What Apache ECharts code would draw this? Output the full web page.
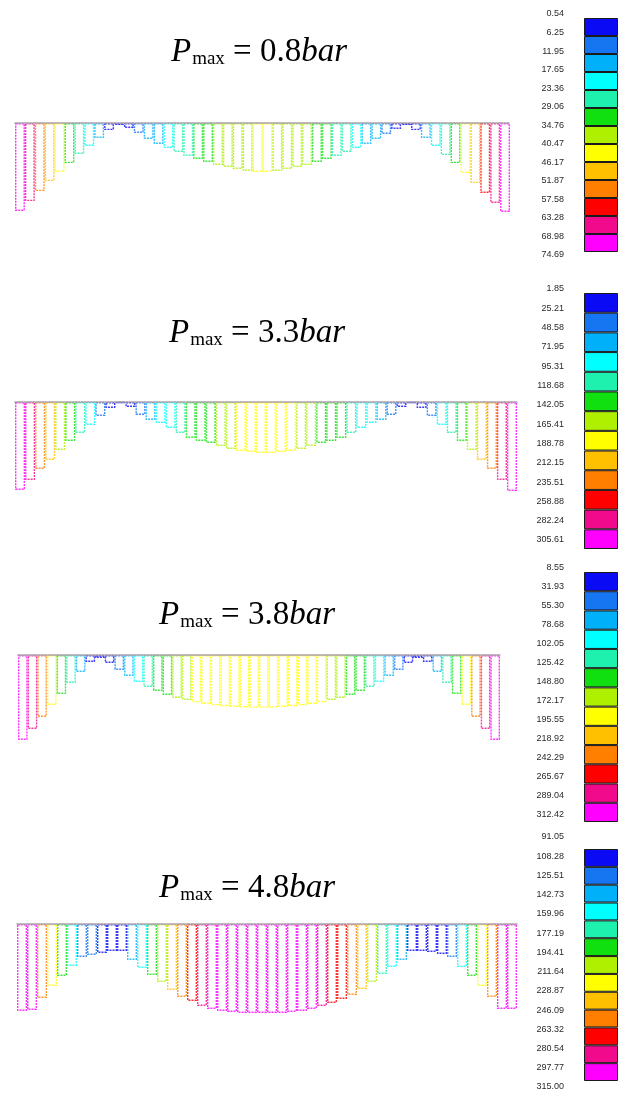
<!DOCTYPE html>
<html>
<head>
<meta charset="utf-8">
<script src="https://cdn.jsdelivr.net/npm/echarts@6/dist/echarts.min.js"></script>
<style>
html, body { margin: 0; padding: 0; background: #ffffff; }
#c { width: 621px; height: 1101px; }
</style>
</head>
<body>
<div id="c"></div>
<script>
// Contour colours, lowest band first
const bandColors = ['#0a0af5', '#1676f2', '#00b0f8', '#00ffff', '#1ef0ae', '#10e010',
  '#aef000', '#ffff00', '#ffc000', '#ff8000', '#ff0000', '#f20a8c', '#ff00ff'];

// Maximum pressure shown in each panel title
const pressures = ['0.8', '3.3', '3.8', '4.8'];

// Band boundaries of each colour scale
const ticks1 = ['0.54', '6.25', '11.95', '17.65', '23.36', '29.06', '34.76', '40.47', '46.17', '51.87', '57.58', '63.28', '68.98', '74.69'];
const ticks2 = ['1.85', '25.21', '48.58', '71.95', '95.31', '118.68', '142.05', '165.41', '188.78', '212.15', '235.51', '258.88', '282.24', '305.61'];
const ticks3 = ['8.55', '31.93', '55.30', '78.68', '102.05', '125.42', '148.80', '172.17', '195.55', '218.92', '242.29', '265.67', '289.04', '312.42'];
const ticks4 = ['91.05', '108.28', '125.51', '142.73', '159.96', '177.19', '194.41', '211.64', '228.87', '246.09', '263.32', '280.54', '297.77', '315.00'];

// Load on each of the 50 segments, left to right
const load1 = [73.8, 65.5, 57.1, 48.7, 41.1, 33.6, 26.0, 19.3, 12.6, 5.9, 1.7, 4.2, 8.4, 13.4, 17.6, 21.0, 24.3, 27.7, 30.2, 32.7, 35.2, 36.9, 38.6, 40.3, 41.1,
  41.1, 40.3, 38.6, 36.9, 35.2, 32.7, 30.2, 27.7, 24.3, 21.0, 17.6, 13.4, 9.2, 5.0, 1.7, 5.9, 12.6, 19.3, 26.9, 33.6, 42.0, 50.4, 58.7, 67.1, 74.69];
const load2 = [302.2, 267.9, 230.1, 199.2, 164.8, 133.9, 106.5, 79.0, 48.1, 20.6, 3.4, 17.2, 44.6, 61.8, 72.1, 89.3, 106.5, 123.6, 133.9, 140.8, 151.1, 161.4, 168.3, 171.7, 175.1,
  175.1, 171.7, 168.3, 161.4, 151.1, 140.8, 133.9, 123.6, 106.5, 89.3, 72.1, 61.8, 44.6, 17.2, 3.4, 20.6, 48.1, 79.0, 106.5, 133.9, 164.8, 199.2, 230.1, 267.9, 305.61];
const load3 = [312.4, 272.0, 227.9, 183.8, 143.4, 102.9, 62.5, 25.7, 11.0, 29.4, 55.1, 77.2, 99.3, 117.6, 132.3, 147.0, 158.1, 165.0, 174.0, 180.0, 185.0, 188.0, 191.0, 193.0, 194.0,
  194.0, 193.0, 191.0, 188.0, 185.0, 180.0, 174.0, 165.0, 158.1, 147.0, 132.3, 117.6, 99.3, 77.2, 55.1, 29.4, 11.0, 25.7, 62.5, 102.9, 143.4, 183.8, 227.9, 272.0, 312.42];
const load4 = [307.9, 304.4, 261.9, 219.4, 184.0, 148.6, 116.8, 109.7, 102.6, 95.6, 95.6, 127.4, 155.7, 180.5, 205.3, 233.6, 258.3, 272.5, 290.2, 300.8, 307.9, 311.4, 315.0, 315.0, 315.0,
  315.0, 315.0, 311.4, 307.9, 300.8, 290.2, 279.6, 265.4, 251.3, 230.0, 205.3, 177.0, 152.2, 127.4, 95.6, 95.6, 99.1, 106.2, 116.8, 152.2, 184.0, 219.4, 258.3, 300.8, 300.8];

const panels = [
  { p: pressures[0], ticks: ticks1, load: load1 },
  { p: pressures[1], ticks: ticks2, load: load2 },
  { p: pressures[2], ticks: ticks3, load: load3 },
  { p: pressures[3], ticks: ticks4, load: load4 }
];

// Placement of each panel on the page
const layout = [
  { x0: 15, x1: 510, base: 123, depth: 89, tLeft: 166, tTop: 29, boxTop: 18, boxBot: 252, labTop: 14, labBot: 255 },
  { x0: 15, x1: 517, base: 402, depth: 89, tLeft: 164, tTop: 310, boxTop: 293, boxBot: 549, labTop: 289, labBot: 540 },
  { x0: 18, x1: 500, base: 655, depth: 85, tLeft: 154, tTop: 592, boxTop: 572, boxBot: 822, labTop: 568, labBot: 815 },
  { x0: 17, x1: 517, base: 924, depth: 89, tLeft: 154, tTop: 865, boxTop: 849, boxBot: 1081, labTop: 837, labBot: 1087 }
];

function bandColor(v, ticks) {
  const t = ticks.map(Number);
  for (let i = 0; i < 13; i++) {
    if (v <= t[i + 1]) return bandColors[i];
  }
  return bandColors[12];
}

const serif = 'Liberation Serif';
const grids = [], xAxes = [], yAxes = [], series = [], titles = [];

panels.forEach((pn, k) => {
  const L = layout[k];
  const tmax = Number(pn.ticks[13]);

  // title  P_max = x bar
  titles.push({
    text: '{p|P}{s|max}{n| = ' + pn.p + '}{b|bar}',
    left: L.tLeft, top: L.tTop,
    textStyle: {
      fontWeight: 'normal',
      rich: {
        p: { fontFamily: serif, fontStyle: 'italic', fontWeight: 'normal', fontSize: 33, lineHeight: 35, color: '#000', verticalAlign: 'bottom' },
        s: { fontFamily: serif, fontWeight: 'normal', fontSize: 19, lineHeight: 12, color: '#000', verticalAlign: 'bottom', padding: [0, 0, 0, 1] },
        n: { fontFamily: serif, fontWeight: 'normal', fontSize: 33, lineHeight: 35, color: '#000', verticalAlign: 'bottom' },
        b: { fontFamily: serif, fontStyle: 'italic', fontWeight: 'normal', fontSize: 33, lineHeight: 35, color: '#000', verticalAlign: 'bottom' }
      }
    }
  });

  // load diagram hanging from the beam line
  let g = grids.length;
  grids.push({ left: L.x0, top: L.base, width: L.x1 - L.x0, height: L.depth });
  xAxes.push({
    gridIndex: g, type: 'category', position: 'top', z: 5,
    data: pn.load.map((_, i) => String(i + 1)),
    axisTick: { show: false }, axisLabel: { show: false }, splitLine: { show: false },
    axisLine: { show: true, onZero: false, lineStyle: { color: '#ab9fa8', width: 1.5, type: [2, 1] } }
  });
  yAxes.push({ gridIndex: g, type: 'value', min: 0, max: tmax, inverse: true, show: false });
  series.push({
    type: 'bar', xAxisIndex: g, yAxisIndex: g, barWidth: '100%', silent: true,
    data: pn.load.map(v => ({
      value: v,
      itemStyle: { color: 'rgba(255,255,255,0)', borderColor: bandColor(v, pn.ticks), borderWidth: 1.4, borderType: [2, 1], opacity: 0.8 }
    }))
  });

  // colour scale boxes
  g = grids.length;
  grids.push({ left: 584, width: 34, top: L.boxTop, height: L.boxBot - L.boxTop });
  xAxes.push({ gridIndex: g, type: 'value', min: 0, max: 1, show: false });
  yAxes.push({ gridIndex: g, type: 'category', inverse: true, show: false, data: bandColors.map((_, i) => String(i)) });
  series.push({
    type: 'bar', xAxisIndex: g, yAxisIndex: g, barWidth: '100%', silent: true,
    data: bandColors.map(c => ({ value: 1, itemStyle: { color: c, borderColor: '#1a1a1a', borderWidth: 1 } }))
  });

  // colour scale boundary labels
  g = grids.length;
  grids.push({ left: 564, width: 1, top: L.labTop, height: L.labBot - L.labTop });
  xAxes.push({ gridIndex: g, type: 'value', min: 0, max: 1, show: false });
  yAxes.push({
    gridIndex: g, type: 'value', min: 0, max: 13, interval: 1, inverse: true,
    axisLine: { show: false }, axisTick: { show: false }, splitLine: { show: false },
    axisLabel: { margin: 0, fontSize: 9, color: '#2a2a2a', fontFamily: 'Liberation Sans', formatter: v => pn.ticks[v] }
  });
  series.push({ type: 'scatter', xAxisIndex: g, yAxisIndex: g, data: [], silent: true });
});

const chart = echarts.init(document.getElementById('c'));
chart.setOption({
  animation: false,
  backgroundColor: '#ffffff',
  title: titles,
  grid: grids,
  xAxis: xAxes,
  yAxis: yAxes,
  series: series
});
</script>
</body>
</html>
